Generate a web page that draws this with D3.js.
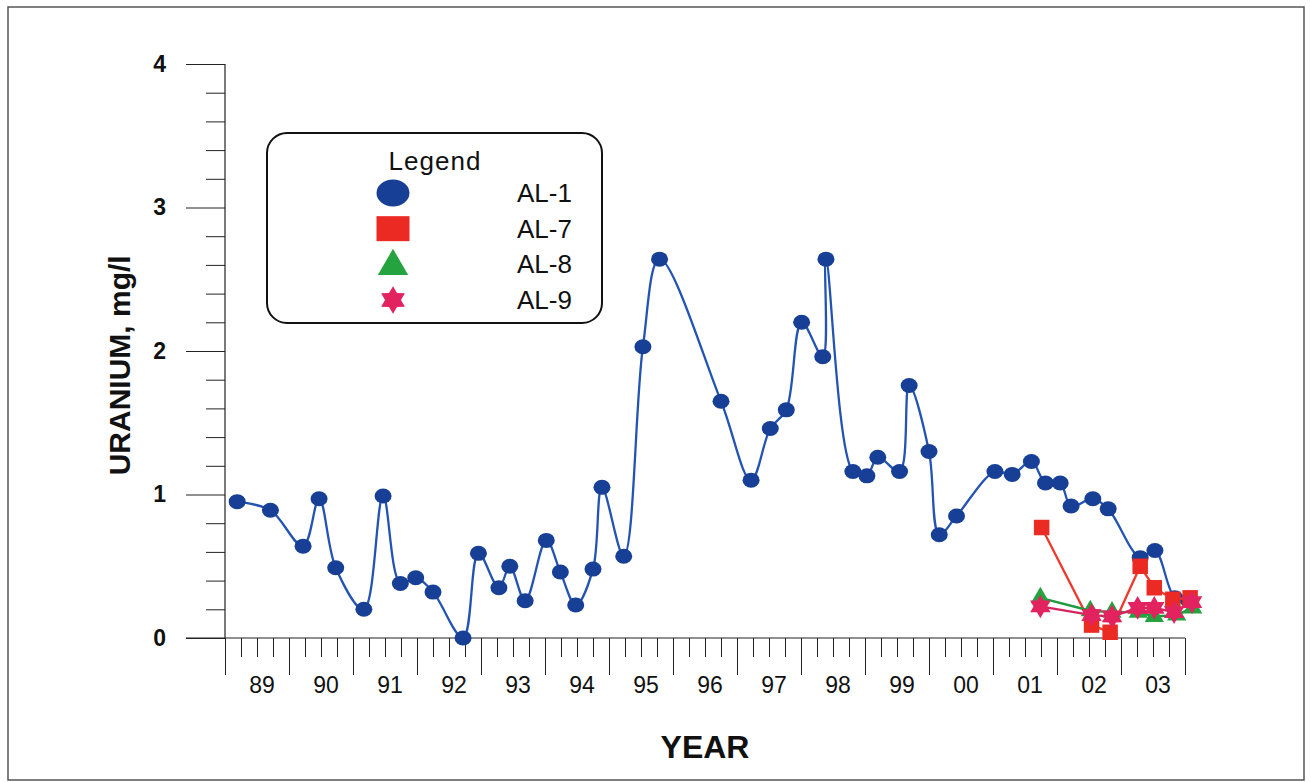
<!DOCTYPE html>
<html>
<head>
<meta charset="utf-8">
<script src="https://cdn.jsdelivr.net/npm/d3@7"></script>
<style>
  body { margin: 0; background: #fff; }
  svg { display: block; font-family: "Liberation Sans", Arial, sans-serif; }
</style>
</head>
<body>
<svg id="chart" width="1311" height="782"></svg>
<script>
// AL-1 (decimal year, mg/l)
const al1Years = [1989.19, 1989.71, 1990.22, 1990.47, 1990.73, 1991.17, 1991.47, 1991.74, 1991.98, 1992.25,
  1992.72, 1992.96, 1993.28, 1993.45, 1993.69, 1994.02, 1994.24, 1994.48, 1994.75, 1994.89,
  1995.23, 1995.53, 1995.79, 1996.75, 1997.22, 1997.52, 1997.77, 1998.01, 1998.34, 1998.39,
  1998.81, 1999.03, 1999.20, 1999.54, 1999.69, 2000.00, 2000.16, 2000.43, 2001.03, 2001.30,
  2001.60, 2001.82, 2002.05, 2002.22, 2002.56, 2002.80, 2003.30, 2003.53, 2003.84, 2004.06];
const al1Values = [0.95, 0.89, 0.64, 0.97, 0.49, 0.20, 0.99, 0.38, 0.42, 0.32,
  0.00, 0.59, 0.35, 0.50, 0.26, 0.68, 0.46, 0.23, 0.48, 1.05,
  0.57, 2.03, 2.64, 1.65, 1.10, 1.46, 1.59, 2.20, 1.96, 2.64,
  1.16, 1.13, 1.26, 1.16, 1.76, 1.30, 0.72, 0.85, 1.16, 1.14,
  1.23, 1.08, 1.08, 0.92, 0.97, 0.90, 0.56, 0.61, 0.28, 0.26];

const al7Years = [2001.76, 2002.54, 2002.83, 2003.30, 2003.52, 2003.81, 2004.08];
const al7Values = [0.77, 0.09, 0.04, 0.50, 0.35, 0.27, 0.28];

const al8Years = [2001.74, 2002.52, 2002.86, 2003.27, 2003.52, 2003.87, 2004.12];
const al8Values = [0.28, 0.19, 0.18, 0.18, 0.15, 0.16, 0.21];

const al9Years = [2001.74, 2002.54, 2002.86, 2003.26, 2003.52, 2003.83, 2004.11];
const al9Values = [0.22, 0.16, 0.15, 0.21, 0.21, 0.18, 0.25];

const yearTicks = d3.range(1989, 2005);
const yearLabels = ["89", "90", "91", "92", "93", "94", "95", "96", "97", "98", "99", "00", "01", "02", "03"];
const yTicks = [0, 1, 2, 3, 4];
const legendNames = ["AL-1", "AL-7", "AL-8", "AL-9"];

const svg = d3.select("#chart");

const marginLeft = 225;
const marginRight = 126;
const marginTop = 64;
const marginBottom = 144;
const width = 1311, height = 782;

const x = d3.scaleLinear().domain([1989, 2004]).range([marginLeft, width - marginRight]);
const y = d3.scaleLinear().domain([0, 4]).range([height - marginBottom, marginTop]);

// outer frame
svg.append("rect")
  .attr("x", 8).attr("y", 7).attr("width", 1296).attr("height", 773)
  .attr("fill", "none").attr("stroke", "#555").attr("stroke-width", 1.5);

// y axis: major + minor ticks
const yMajor = svg.append("g").attr("transform", `translate(${marginLeft},0)`)
  .call(d3.axisLeft(y).tickValues(yTicks).tickSize(39).tickPadding(20).tickFormat(d3.format("d")));
yMajor.select(".domain").remove();
yMajor.selectAll("text").attr("font-size", 23).attr("font-weight", "bold").attr("fill", "#111").attr("font-family", null);
yMajor.selectAll("line").attr("stroke", "#222");

const yMinor = svg.append("g").attr("transform", `translate(${marginLeft},0)`)
  .call(d3.axisLeft(y).tickValues(d3.range(0.2, 4, 0.2).filter(v => Math.abs(v - Math.round(v)) > 0.01)).tickSize(19).tickFormat(""));
yMinor.select(".domain").remove();
yMinor.selectAll("line").attr("stroke", "#222");

svg.append("line")
  .attr("x1", marginLeft).attr("x2", marginLeft)
  .attr("y1", y(4)).attr("y2", y(0))
  .attr("stroke", "#222").attr("stroke-width", 1.2);

// x axis
const xBase = y(0);
svg.append("line")
  .attr("x1", marginLeft - 39).attr("x2", x(2004))
  .attr("y1", xBase).attr("y2", xBase)
  .attr("stroke", "#222").attr("stroke-width", 1.2);

const xMajor = svg.append("g").attr("transform", `translate(0,${xBase})`)
  .call(d3.axisBottom(x).tickValues(yearTicks).tickSize(37).tickFormat(""));
xMajor.select(".domain").remove();
xMajor.selectAll("line").attr("stroke", "#222");

const quarterTicks = d3.range(1989, 2004).flatMap(yr => [yr + 0.25, yr + 0.5, yr + 0.75]);
const xMinor = svg.append("g").attr("transform", `translate(0,${xBase})`)
  .call(d3.axisBottom(x).tickValues(quarterTicks).tickSize(19).tickFormat(""));
xMinor.select(".domain").remove();
xMinor.selectAll("line").attr("stroke", "#222");

svg.append("g").selectAll("text")
  .data(yearLabels)
  .join("text")
  .attr("x", (d, i) => x(1989 + i + 0.58))
  .attr("y", xBase + 55)
  .attr("text-anchor", "middle")
  .attr("font-size", 23)
  .attr("fill", "#111")
  .text(d => d);

// axis titles
svg.append("text")
  .attr("x", x(1996.5)).attr("y", 758)
  .attr("text-anchor", "middle")
  .attr("font-size", 32).attr("font-weight", "bold").attr("fill", "#111")
  .text("YEAR");

svg.append("text")
  .attr("transform", `translate(130,${y(1.9)}) rotate(-90)`)
  .attr("text-anchor", "middle")
  .attr("font-size", 30).attr("font-weight", "bold").attr("fill", "#111")
  .text("URANIUM, mg/l");

// six-pointed star symbol
const star6 = {
  draw(context, size) {
    const r = Math.sqrt(size / 1.8);
    const ri = r * 0.58;
    for (let i = 0; i < 12; i++) {
      const a = -Math.PI / 2 + i * Math.PI / 6;
      const rr = i % 2 === 0 ? r : ri;
      if (i === 0) context.moveTo(rr * Math.cos(a), rr * Math.sin(a));
      else context.lineTo(rr * Math.cos(a), rr * Math.sin(a));
    }
    context.closePath();
  }
};

const series = [
  { name: "AL-1", years: al1Years, values: al1Values, line: "#2354b3", fill: "#173f96", curve: d3.curveCatmullRom.alpha(0.5) },
  { name: "AL-7", years: al7Years, values: al7Values, line: "#ee3a2c", fill: "#ec2a24", curve: d3.curveLinear, symbol: d3.symbolSquare, size: 240, legendSize: 0 },
  { name: "AL-8", years: al8Years, values: al8Values, line: "#1d9a3c", fill: "#25a33e", curve: d3.curveLinear, symbol: d3.symbolTriangle, size: 160, legendSize: 400 },
  { name: "AL-9", years: al9Years, values: al9Values, line: "#d7245e", fill: "#e2235f", curve: d3.curveLinear, symbol: star6, size: 250, legendSize: 340 }
];

series.forEach(s => {
  const pts = s.years.map((t, i) => ({ t, v: s.values[i] }));
  const line = d3.line().x(p => x(p.t)).y(p => y(p.v)).curve(s.curve);
  svg.append("path")
    .datum(pts)
    .attr("d", line)
    .attr("fill", "none")
    .attr("stroke", s.line)
    .attr("stroke-width", 2.3);

  if (s.name === "AL-1") {
    svg.append("g").selectAll("ellipse")
      .data(pts)
      .join("ellipse")
      .attr("cx", p => x(p.t)).attr("cy", p => y(p.v))
      .attr("rx", 8.5).attr("ry", 7.5)
      .attr("fill", s.fill);
  } else {
    svg.append("g").selectAll("path")
      .data(pts)
      .join("path")
      .attr("transform", p => `translate(${x(p.t)},${y(p.v)})`)
      .attr("d", d3.symbol().type(s.symbol).size(s.size))
      .attr("fill", s.fill);
  }
});

// legend
const legend = svg.append("g");
legend.append("rect")
  .attr("x", 267).attr("y", 133).attr("width", 335).attr("height", 190)
  .attr("rx", 20).attr("ry", 20)
  .attr("fill", "#fff").attr("stroke", "#111").attr("stroke-width", 2);
legend.append("text")
  .attr("x", 435).attr("y", 170)
  .attr("text-anchor", "middle")
  .attr("font-size", 26).attr("letter-spacing", 1).attr("fill", "#111")
  .text("Legend");

const legendRowY = d3.scalePoint().domain(legendNames).range([193, 300]);
legendNames.forEach((name, i) => {
  const s = series[i];
  const cy = legendRowY(name);
  if (i === 0) {
    legend.append("ellipse").attr("cx", 393).attr("cy", cy).attr("rx", 16.5).attr("ry", 13.5).attr("fill", s.fill);
  } else if (i === 1) {
    legend.append("rect").attr("x", 393 - 16.5).attr("y", cy - 12.5).attr("width", 33).attr("height", 25).attr("fill", s.fill);
  } else {
    legend.append("path")
      .attr("transform", `translate(393,${cy + (i === 2 ? 2 : 0)})`)
      .attr("d", d3.symbol().type(s.symbol).size(s.legendSize))
      .attr("fill", s.fill);
  }
  legend.append("text")
    .attr("x", 517).attr("y", cy + 9)
    .attr("font-size", 26).attr("fill", "#111")
    .text(name);
});
</script>
</body>
</html>
